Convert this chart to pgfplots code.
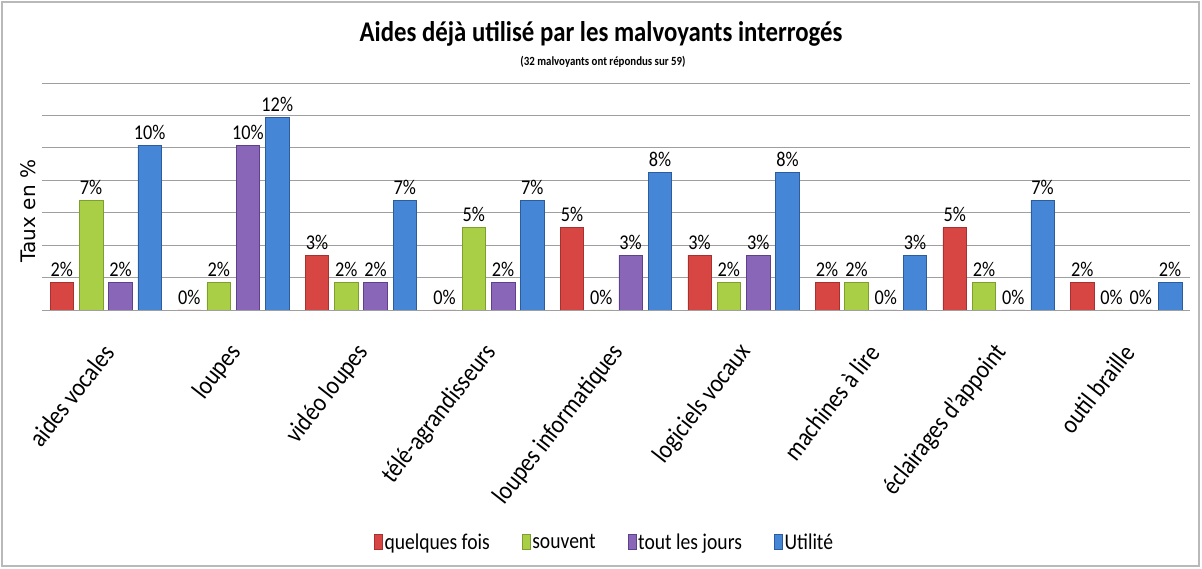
\documentclass[border=0pt]{standalone}
\usepackage{pgfplots}
\pgfplotsset{compat=1.18}
\usepackage{fontspec}
\setmainfont{Carlito}[FakeStretch=0.87]
\newfontfamily\ylabfont{DejaVu Sans}
\definecolor{cred}{HTML}{D84644}
\definecolor{credd}{HTML}{A8302E}
\definecolor{cgreen}{HTML}{A8CF45}
\definecolor{cgreend}{HTML}{7E9E2E}
\definecolor{cpurple}{HTML}{8A66B8}
\definecolor{cpurpled}{HTML}{5F408A}
\definecolor{cblue}{HTML}{4686D6}
\definecolor{cblued}{HTML}{2A5C9E}
\begin{document}
\begin{tikzpicture}
\useasboundingbox (0pt,0pt) rectangle (1202pt,569pt);
\draw[gray!55, line width=1.3pt] (2pt,3pt) rectangle (1199pt,567pt);
\begin{axis}[
  at={(42pt,259pt)}, anchor=south west,
  scale only axis, width=1148pt, height=227pt,
  ybar=5.8pt, bar width=23.5pt,
  xmin=-0.5, xmax=8.5, ymin=0, ymax=14,
  xtick={0,...,8},
  xticklabels={aides vocales, loupes, vidéo loupes, télé-agrandisseurs, loupes informatiques, logiciels vocaux, machines à lire, éclairages d'appoint, outil braille},
  xticklabel style={font=\fontsize{26}{30}\selectfont, yshift=-31pt, xshift=5pt, rotate=52, anchor=east},
  ytick={0,2,...,14}, yticklabels={},
  ymajorgrids, grid style={gray!75, line width=0.8pt},
  axis line style={draw=none}, tick style={draw=none},
  ylabel={\ylabfont\fontsize{20}{24}\selectfont Taux en \%},
  ylabel style={at={(axis description cs:-0.0116,0.436)}, anchor=center},
  title={\fontsize{28.5}{32}\selectfont\bfseries Aides déjà utilisé par les malvoyants interrogés},
  title style={at={(axis description cs:0.487,1.19)}, anchor=center},
  /pgf/number format/assume math mode=true,
  nodes near coords={\pgfmathprintnumber[fixed,precision=0]{\pgfplotspointmeta}\%},
  every node near coord/.append style={font=\fontsize{21}{24}\selectfont, text=black, yshift=2pt},
  legend columns=4,
  legend style={at={(axis description cs:0.490,-1.022)}, anchor=center, draw=none, fill=none,
    font=\fontsize{22.5}{24}\selectfont,
    /tikz/every even column/.append style={column sep=30pt},
    nodes={inner sep=2pt}},
  legend image code/.code={\path[#1] (2pt,-7pt) rectangle (10pt,8pt);},
  after end axis/.code={\node[font=\fontsize{12.5}{14}\selectfont\bfseries] at (axis description cs:0.4887,1.093) {(32 malvoyants ont répondus sur 59)};},
]
\addplot[draw=credd, line width=0.6pt, fill=cred] coordinates {(0,1.69) (1,0) (2,3.39) (3,0) (4,5.08) (5,3.39) (6,1.69) (7,5.08) (8,1.69)};
\addplot[draw=cgreend, line width=0.6pt, fill=cgreen] coordinates {(0,6.78) (1,1.69) (2,1.69) (3,5.08) (4,0) (5,1.69) (6,1.69) (7,1.69) (8,0)};
\addplot[draw=cpurpled, line width=0.6pt, fill=cpurple] coordinates {(0,1.69) (1,10.17) (2,1.69) (3,1.69) (4,3.39) (5,3.39) (6,0) (7,0) (8,0)};
\addplot[draw=cblued, line width=0.6pt, fill=cblue] coordinates {(0,10.17) (1,11.86) (2,6.78) (3,6.78) (4,8.47) (5,8.47) (6,3.39) (7,6.78) (8,1.69)};
\legend{quelques fois, souvent, tout les jours, Utilité}
\end{axis}
\end{tikzpicture}
\end{document}
